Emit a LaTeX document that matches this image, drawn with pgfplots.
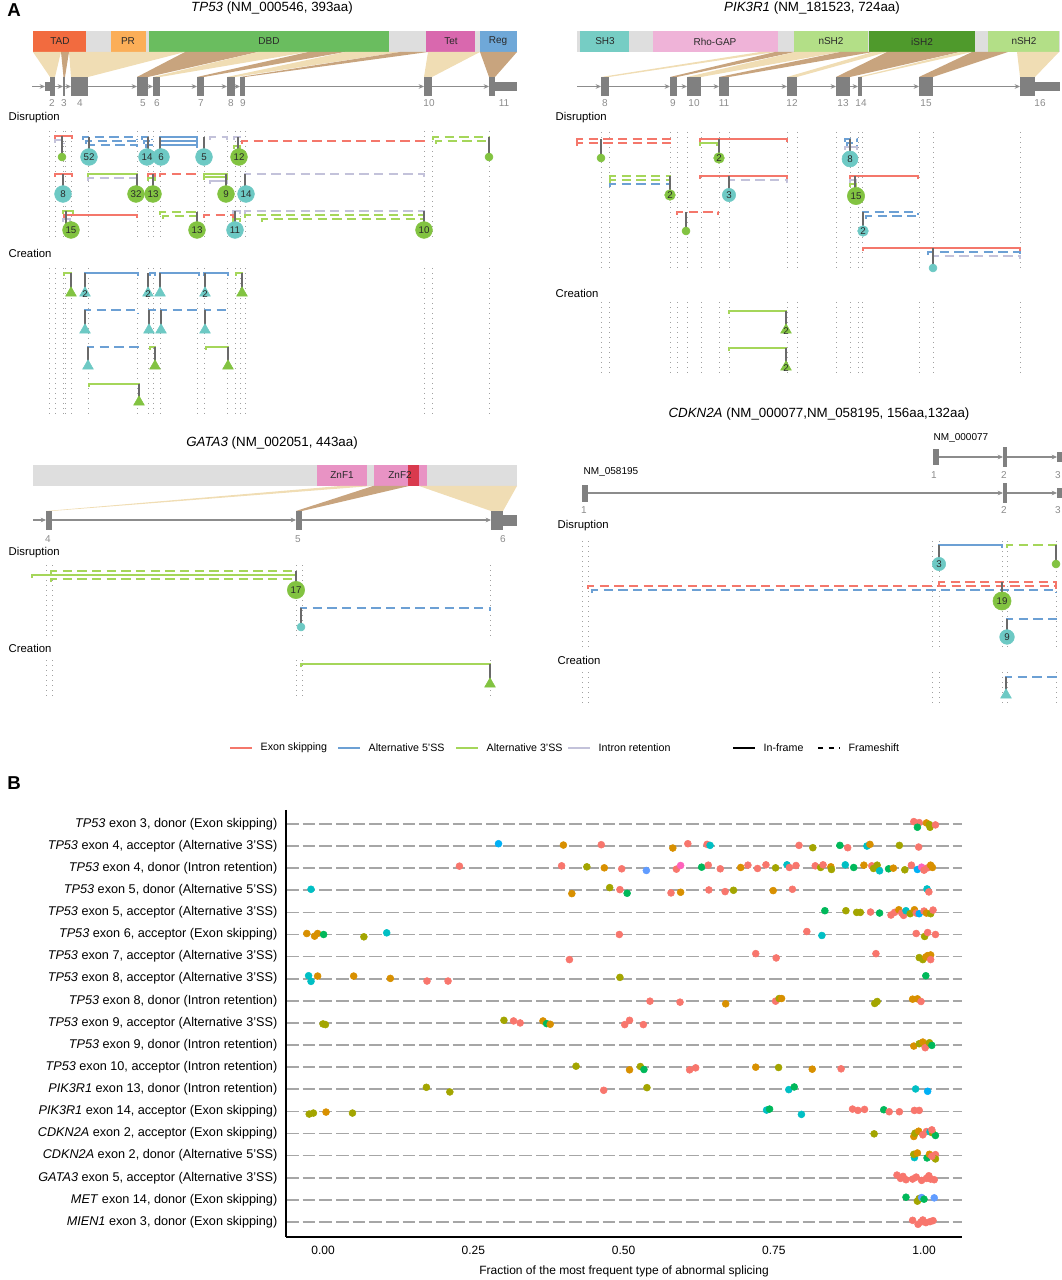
\documentclass[border=0pt]{standalone}
\usepackage{pgfplots}
\pgfplotsset{compat=1.18}
\usepackage{fontspec}
\setmainfont{Liberation Sans}
\usetikzlibrary{arrows.meta}
\newcommand{\fs}[1]{\fontsize{#1}{#1}\selectfont}
\definecolor{cES}{HTML}{F4776B}
\definecolor{cA5}{HTML}{6CA0D4}
\definecolor{cA3}{HTML}{A5D65A}
\definecolor{cIR}{HTML}{C3C2DA}
\definecolor{cTe}{HTML}{6DC9C4}
\definecolor{cGr}{HTML}{82C341}
\definecolor{cStem}{HTML}{6A6A6A}
\definecolor{cDot}{HTML}{A0A0A0}
\definecolor{fanL}{HTML}{F0DDB4}
\definecolor{fanD}{HTML}{C8A47E}
\definecolor{cBar}{HTML}{DEDEDE}
\definecolor{cEx}{HTML}{808080}
\definecolor{cLab}{HTML}{8C8C8C}
\definecolor{cNum}{HTML}{2A2A2A}
\definecolor{cTAD}{HTML}{F26B3F}
\definecolor{cPR}{HTML}{FBAE58}
\definecolor{cDBD}{HTML}{6ABD5F}
\definecolor{cTet}{HTML}{D968AE}
\definecolor{cReg}{HTML}{6FA8D8}
\definecolor{cSH3}{HTML}{76CDC4}
\definecolor{cRho}{HTML}{EFB3D8}
\definecolor{cnSH}{HTML}{B3DF87}
\definecolor{ciSH}{HTML}{4F9A2C}
\definecolor{cZnF}{HTML}{E893C4}
\definecolor{cZnR}{HTML}{D93A4E}
\definecolor{cGrid}{HTML}{A6A6A6}
\definecolor{cS}{HTML}{F8766D}
\definecolor{cO}{HTML}{D89000}
\definecolor{cV}{HTML}{A3A500}
\definecolor{cG}{HTML}{00B85A}
\definecolor{cT}{HTML}{00BFC4}
\definecolor{cB}{HTML}{00B0F6}
\definecolor{cP}{HTML}{FF62BC}
\definecolor{cU}{HTML}{619CFF}
\tikzset{
 ES/.style={color=cES, line width=1.3pt},
 A5/.style={color=cA5, line width=1.3pt},
 A3/.style={color=cA3, line width=1.3pt},
 IR/.style={color=cIR, line width=1.3pt},
 FS/.style={dash pattern=on 7pt off 4pt},
 stemst/.style={color=cStem, line width=1.6pt},
 vdot/.style={color=cDot, line width=0.75pt, dash pattern=on 0.75pt off 3pt},
 intron/.style={color=cLab, line width=0.9pt, -{Stealth[length=4pt,width=3.5pt]}},
}
\newcommand{\brk}[4]{\pgfmathsetmacro{\yb}{#4+3}\addplot[#1] coordinates {(#2,\yb)(#2,#4)(#3,#4)(#3,\yb)};}
\newcommand{\stm}[3]{\addplot[stemst] coordinates {(#1,#2)(#1,#3)};}
\newcommand{\cir}[5]{\addplot[only marks, mark=*, mark size=#4, color=#3, nodes near coords={#5}, every node near coord/.append style={anchor=center, text=cNum, font=\fs{7.3}}] coordinates {(#1,#2)};}
\newcommand{\tri}[4]{\addplot[only marks, mark=triangle*, mark size=4.6pt, color=#3, nodes near coords={#4}, every node near coord/.append style={anchor=center, text=cNum, font=\fs{7.3}, yshift=-1pt}] coordinates {(#1,#2)};}
\newcommand{\rect}[5]{\addplot[fill=#5, draw=none] coordinates {(#1,#3)(#2,#3)(#2,#4)(#1,#4)};}
\newcommand{\fan}[7]{\addplot[fill=#7, draw=none] coordinates {(#1,#5)(#2,#5)(#4,#6)(#3,#6)};}
\newcommand{\intr}[3]{\addplot[intron] coordinates {(#1,#3)(#2,#3)};}
\newcommand{\lab}[4][]{\node[font=\fs{7.5}, text=cLab, #1] at (axis cs:#2,#3) {#4};}

\pgfplotstableread{
x y c
0.983 0.895 s
0.992 0.94 s
1.004 0.955 o
1.009 1.03 v
0.989 1.15 g
1.010 1.15 v
1.019 1.045 s
0.292 1.895 b
0.400 1.955 o
0.463 1.94 s
0.582 2.09 o
0.607 1.895 s
0.639 1.925 s
0.644 1.97 t
0.792 1.97 s
0.815 2.075 v
0.860 1.97 g
0.873 2.075 s
0.905 2.0 t
0.910 1.925 o
0.959 1.97 v
0.991 2.045 s
0.227 2.91 s
0.397 2.895 s
0.439 2.94 v
0.468 2.985 o
0.497 3.03 s
0.538 3.105 u
0.588 3.045 s
0.595 2.88 p
0.630 2.955 g
0.641 2.865 s
0.661 3.03 s
0.695 2.97 o
0.707 2.865 s
0.723 3.015 s
0.737 2.85 s
0.753 2.985 v
0.772 2.85 t
0.776 2.97 s
0.787 2.88 s
0.819 2.895 s
0.828 2.97 v
0.832 2.85 s
0.845 2.94 o
0.846 3.06 v
0.869 2.85 t
0.883 2.97 g
0.900 2.865 o
0.913 2.895 s
0.916 3.015 v
0.922 2.865 v
0.926 3.12 t
0.941 3.03 g
0.949 3.0 o
0.968 3.075 v
0.979 2.865 s
0.989 3.06 b
0.996 2.955 p
1.000 3.09 s
1.006 2.985 s
1.011 2.865 o
1.014 2.97 o
-0.020 3.955 t
0.414 4.15 o
0.477 3.88 v
0.494 3.97 s
0.506 4.135 g
0.579 4.12 s
0.595 4.09 o
0.642 3.985 s
0.669 4.06 s
0.683 4.0 v
0.749 4.015 o
0.781 3.955 s
1.005 3.94 t
1.008 4.075 s
0.835 4.925 g
0.870 4.925 v
0.888 5.0 v
0.894 5.0 v
0.911 4.985 s
0.926 5.03 g
0.945 5.12 s
0.951 5.0 s
0.958 4.88 o
0.963 5.03 s
0.966 5.135 s
0.970 4.925 t
0.977 5.06 v
0.984 4.88 o
0.987 5.03 s
0.992 5.06 b
1.000 4.94 s
1.004 5.03 o
1.011 5.06 v
1.015 4.895 s
-0.027 5.955 o
-0.014 6.075 o
-0.009 5.955 o
0.001 6.0 g
0.068 6.105 v
0.106 5.925 t
0.493 6.0 s
0.805 5.865 s
0.830 6.045 t
0.987 5.955 s
1.001 6.09 v
1.006 5.91 s
1.019 6.0 s
0.410 7.135 s
0.720 6.865 s
0.754 7.06 s
0.920 6.865 s
0.992 7.045 v
0.998 7.135 v
1.003 7.015 o
1.006 6.955 o
1.011 6.925 o
1.011 7.135 s
-0.024 7.865 t
-0.020 8.12 t
-0.009 7.88 o
0.051 7.88 o
0.112 7.985 o
0.173 8.105 s
0.208 8.105 s
0.494 7.94 v
1.003 7.865 g
0.544 9.015 s
0.594 9.06 s
0.670 9.135 o
0.753 9.015 s
0.759 8.895 v
0.763 8.895 o
0.918 9.12 v
0.922 9.03 v
0.981 8.925 o
0.989 8.91 o
0.995 9.03 s
0.000 10.045 v
0.004 10.075 v
0.301 9.88 v
0.317 9.91 s
0.328 10.0 s
0.366 9.91 o
0.372 10.03 g
0.378 10.06 o
0.502 10.075 s
0.510 9.88 s
0.533 10.075 s
0.983 11.045 o
0.992 10.94 v
0.998 10.865 o
1.004 10.97 o
1.002 11.12 s
1.009 10.895 v
1.013 11.015 g
0.421 11.955 v
0.510 12.12 o
0.528 11.97 v
0.534 12.105 g
0.610 12.12 s
0.620 12.03 s
0.720 12.0 o
0.758 12.015 v
0.814 12.09 o
0.862 12.075 s
0.172 12.91 v
0.211 13.12 v
0.467 13.045 s
0.539 12.925 v
0.775 13.015 t
0.784 12.895 g
0.986 12.985 t
1.006 13.09 b
-0.023 14.12 v
-0.016 14.075 v
0.005 14.03 o
0.049 14.075 v
0.738 13.94 t
0.743 13.895 g
0.796 14.135 t
0.881 13.895 s
0.890 13.955 s
0.901 13.91 s
0.933 13.925 g
0.942 14.015 s
0.959 14.015 s
0.984 13.955 s
0.992 13.955 s
0.917 15.015 v
0.983 15.135 o
0.985 14.985 v
0.991 14.895 o
0.998 15.06 s
1.004 14.91 s
1.010 14.925 t
1.014 14.97 v
1.019 15.09 g
1.013 14.835 s
0.984 16.09 t
0.983 15.94 v
0.989 15.88 o
1.005 16.105 g
1.009 15.94 o
1.019 15.955 s
1.019 16.15 v
1.013 16.03 s
0.955 16.88 s
0.961 17.03 s
0.965 16.94 s
0.970 17.09 s
0.981 17.06 s
0.987 16.97 s
0.996 17.12 s
1.004 17.03 s
1.008 16.91 s
1.011 17.06 s
1.017 17.09 s
0.970 17.88 g
0.989 18.06 v
0.992 17.94 v
0.996 17.895 u
1.000 17.97 g
1.017 17.91 u
0.981 18.925 s
0.990 19.105 s
0.995 19.0 s
0.998 18.91 s
1.003 19.03 s
1.015 18.94 s
1.010 18.985 s
}\dotsB

\begin{document}
\begin{tikzpicture}
\useasboundingbox (0,0) rectangle (796.5pt,960pt);
\begin{axis}[at={(0pt,0pt)}, anchor=south west, scale only axis, width=796.5pt, height=960pt,
 xmin=0, xmax=1062, ymin=0, ymax=1280, y dir=reverse, hide axis, clip=false]

% ---------- panel letters ----------
\node[font=\fs{14}\bfseries] at (axis cs:14,10) {A};
\node[font=\fs{14}\bfseries] at (axis cs:14,783) {B};

% ================= TP53 =================
\node[font=\fs{10}] at (axis cs:272,8) {\textit{TP53} (NM\_000546, 393aa)};
\rect{33}{517}{31}{52}{cBar}
\rect{33}{86}{31}{52}{cTAD}
\rect{111}{146}{31}{52}{cPR}
\rect{149}{389}{31}{52}{cDBD}
\rect{426}{475}{31}{52}{cTet}
\rect{480}{517}{31}{52}{cReg}
\node[font=\fs{7.5}, text=cNum] at (axis cs:60,41.5) {TAD};
\node[font=\fs{7.5}, text=cNum] at (axis cs:128,41.5) {PR};
\node[font=\fs{7.5}, text=cNum] at (axis cs:269,41.5) {DBD};
\node[font=\fs{7.5}, text=cNum] at (axis cs:451,41.5) {Tet};
\node[font=\fs{7.5}, text=cNum] at (axis cs:498,41.5) {Reg};
\fan{33}{61}{50}{55}{52}{77}{fanL}
\fan{61}{69}{63.5}{65}{52}{77}{fanD}
\fan{69}{185}{71}{88}{52}{77}{fanL}
\fan{185}{258}{137}{148}{52}{77}{fanD}
\fan{258}{308}{153}{160}{52}{77}{fanL}
\fan{308}{345}{197}{204}{52}{77}{fanD}
\fan{345}{400}{227}{235}{52}{77}{fanL}
\fan{400}{428}{240}{245}{52}{77}{fanD}
\fan{428}{480}{424}{432}{52}{77}{fanL}
\fan{480}{517}{489}{495}{52}{77}{fanD}
\intr{32}{45}{86.5}\intr{55}{63}{86.5}\intr{65}{71}{86.5}\intr{88}{137}{86.5}
\intr{148}{153}{86.5}\intr{160}{197}{86.5}\intr{204}{227}{86.5}\intr{235}{240}{86.5}
\intr{245}{424}{86.5}\intr{432}{489}{86.5}
\rect{45}{50}{82}{91}{cEx}
\rect{50}{55}{77}{96}{cEx}
\rect{63.3}{65}{77}{96}{cEx}
\rect{71}{88}{77}{96}{cEx}
\rect{137}{148}{77}{96}{cEx}
\rect{153}{160}{77}{96}{cEx}
\rect{197}{204}{77}{96}{cEx}
\rect{227}{235}{77}{96}{cEx}
\rect{240}{245}{77}{96}{cEx}
\rect{424}{432}{77}{96}{cEx}
\rect{489}{495}{77}{96}{cEx}
\rect{495}{517}{82}{91}{cEx}
\lab{52}{103}{2}\lab{64}{103}{3}\lab{80}{103}{4}\lab{143}{103}{5}\lab{157}{103}{6}
\lab{201}{103}{7}\lab{231}{103}{8}\lab{243}{103}{9}\lab{429}{103}{10}\lab{504}{103}{11}
\node[font=\fs{8.5}, anchor=west] at (axis cs:4,118) {Disruption};
\node[font=\fs{8.5}, anchor=west] at (axis cs:4,253) {Creation};
\pgfplotsinvokeforeach{49,55,63,65,71,88,137,148,153,160,197,204,227,235,240,245,424,432,489}{
 \addplot[vdot] coordinates {(#1,131)(#1,241)};
 \addplot[vdot] coordinates {(#1,268)(#1,416)};
}
% disruption row 1
\brk{ES}{55}{72}{136}\brk{IR,FS}{55}{64}{140}\stm{62}{136}{157}\cir{62}{157}{cGr}{3pt}{}
\brk{A5,FS}{83}{137}{137}\brk{A5,FS}{86}{137}{141}\brk{A5,FS}{89}{137}{145}\stm{89}{137}{157}
\brk{A5,FS}{142}{152}{137}\brk{A5,FS}{144}{152}{141}\brk{A5,FS}{146}{152}{145}\stm{148}{137}{157}
\brk{A5}{160}{197}{137}\brk{A5}{160}{197}{141}\brk{A5}{160}{197}{145}\stm{160}{137}{157}
\brk{IR,FS}{210}{227}{137}\stm{204}{137}{157}
\brk{IR,FS}{234}{240}{137}\brk{A3}{234}{240}{146}\brk{ES,FS}{242}{424}{141}\stm{238}{137}{157}
\brk{A3,FS}{433}{489}{137}\brk{A3,FS}{436}{489}{141}\stm{489}{137}{157}
\cir{89}{157}{cTe}{6.3pt}{52}\cir{147}{157}{cTe}{6.3pt}{14}\cir{161}{157}{cTe}{6.3pt}{6}
\cir{204}{157}{cTe}{6.3pt}{5}\cir{239}{157}{cGr}{6.3pt}{12}\cir{489}{157}{cGr}{3pt}{}
% row 2
\brk{ES}{55}{72}{174}\stm{63}{174}{194}
\brk{A3}{88}{137}{174}\brk{IR,FS}{88}{137}{178}\stm{137}{174}{194}
\brk{ES}{148}{155}{174}\brk{A3}{148}{155}{178}\stm{153}{174}{194}
\brk{ES,FS}{160}{197}{174}
\brk{A3}{204}{227}{174}\brk{A3}{204}{227}{177}\brk{IR}{210}{227}{181}\stm{226}{174}{194}
\brk{IR,FS}{245}{424}{174}\stm{245}{174}{194}
\cir{63}{194}{cTe}{6.3pt}{8}\cir{136}{194}{cGr}{6.3pt}{32}\cir{153}{194}{cGr}{6.3pt}{13}
\cir{226}{194}{cGr}{6.3pt}{9}\cir{246}{194}{cTe}{6.3pt}{14}
% row 3
\brk{A3}{63}{73}{211}\brk{IR}{63}{70}{219}\brk{ES}{64}{137}{215}\stm{66}{211}{228}
\brk{A3,FS}{160}{197}{212}\brk{A3,FS}{163}{197}{216}\stm{197}{212}{230}
\brk{ES,FS}{204}{233}{215}\brk{IR}{233}{240}{211}\brk{A3}{233}{240}{219}\stm{235}{211}{230}
\brk{IR,FS}{245}{424}{211}\brk{A3,FS}{245}{424}{215}\brk{A3,FS}{262}{424}{219}\stm{424}{211}{230}
\cir{71}{230}{cGr}{6.3pt}{15}\cir{197}{230}{cGr}{6.3pt}{13}\cir{235}{230}{cTe}{6.3pt}{11}
\cir{424}{230}{cGr}{6.3pt}{10}
% creation
\brk{A3}{64}{71}{273}\stm{71}{273}{291}\tri{71}{293}{cGr}{}
\brk{A5}{85}{138}{273}\stm{85}{273}{291}\tri{85}{293}{cTe}{2}
\brk{A5}{150}{155}{273}\stm{148}{273}{291}\tri{148}{293}{cTe}{2}
\brk{A5}{160}{199}{273}\stm{160}{273}{291}\tri{160}{293}{cTe}{}
\brk{A5}{204}{228}{273}\stm{205}{273}{291}\tri{205}{293}{cTe}{2}
\brk{A3}{236}{242}{273}\stm{242}{273}{291}\tri{242}{293}{cGr}{}
\brk{A5,FS}{85}{138}{310}\stm{85}{310}{328}\tri{85}{330}{cTe}{}
\brk{A5,FS}{149}{155}{310}\stm{149}{310}{328}\tri{149}{330}{cTe}{}
\brk{A5,FS}{161}{199}{310}\stm{161}{310}{328}\tri{161}{330}{cTe}{}
\brk{A5,FS}{205}{228}{310}\stm{205}{310}{328}\tri{205}{330}{cTe}{}
\brk{A5,FS}{88}{138}{347}\stm{88}{347}{364}\tri{88}{366}{cTe}{}
\brk{A3}{150}{155}{347}\stm{155}{347}{364}\tri{155}{366}{cGr}{}
\brk{A3}{206}{228}{347}\stm{228}{347}{364}\tri{228}{366}{cGr}{}
\brk{A3}{89}{139}{384}\stm{139}{384}{400}\tri{139}{402}{cGr}{}

% ================= PIK3R1 =================
\node[font=\fs{10}] at (axis cs:812,8) {\textit{PIK3R1} (NM\_181523, 724aa)};
\rect{577}{1060}{31}{52}{cBar}
\rect{580}{629}{31}{52}{cSH3}
\rect{653}{778}{31}{52}{cRho}
\rect{794}{868}{31}{52}{cnSH}
\rect{869}{975}{31}{52}{ciSH}
\rect{988}{1059}{31}{52}{cnSH}
\node[font=\fs{7.5}, text=cNum] at (axis cs:605,41.5) {SH3};
\node[font=\fs{7.5}, text=cNum] at (axis cs:715,41.5) {Rho-GAP};
\node[font=\fs{7.5}, text=cNum] at (axis cs:831,41.5) {nSH2};
\node[font=\fs{7.5}, text=cNum] at (axis cs:922,41.5) {iSH2};
\node[font=\fs{7.5}, text=cNum] at (axis cs:1024,41.5) {nSH2};
\fan{760}{775}{601}{609}{52}{77}{fanL}
\fan{775}{795}{670}{677}{52}{77}{fanD}
\fan{795}{840}{687}{701}{52}{77}{fanL}
\fan{840}{873}{719}{729}{52}{77}{fanD}
\fan{873}{887}{787}{797}{52}{77}{fanL}
\fan{887}{960}{836}{850}{52}{77}{fanD}
\fan{960}{972}{858}{862}{52}{77}{fanL}
\fan{972}{1008}{919}{933}{52}{77}{fanD}
\fan{1017}{1059}{1020}{1035}{52}{77}{fanL}
\intr{577}{601}{86.5}\intr{609}{670}{86.5}\intr{677}{687}{86.5}\intr{701}{719}{86.5}
\intr{729}{787}{86.5}\intr{797}{836}{86.5}\intr{850}{858}{86.5}\intr{862}{919}{86.5}
\intr{933}{1020}{86.5}
\rect{601}{609}{77}{96}{cEx}
\rect{670}{677}{77}{96}{cEx}
\rect{687}{701}{77}{96}{cEx}
\rect{719}{729}{77}{96}{cEx}
\rect{787}{797}{77}{96}{cEx}
\rect{836}{850}{77}{96}{cEx}
\rect{858}{862}{77}{96}{cEx}
\rect{919}{933}{77}{96}{cEx}
\rect{1020}{1035}{77}{96}{cEx}
\rect{1035}{1060}{82}{91}{cEx}
\lab{605}{103}{8}\lab{673}{103}{9}\lab{694}{103}{10}\lab{724}{103}{11}\lab{792}{103}{12}
\lab{843}{103}{13}\lab{861}{103}{14}\lab{926}{103}{15}\lab{1040}{103}{16}
\node[font=\fs{8.5}, anchor=west] at (axis cs:551,118) {Disruption};
\node[font=\fs{8.5}, anchor=west] at (axis cs:551,293) {Creation};
\pgfplotsinvokeforeach{601,609,670,677,687,701,719,729,787,797,836,850,858,862,919,933,1020}{
 \addplot[vdot] coordinates {(#1,132)(#1,272)};
 \addplot[vdot] coordinates {(#1,302)(#1,377)};
}
\brk{ES,FS}{577}{670}{139}\brk{ES,FS}{577}{670}{143}\stm{601}{139}{158}
\brk{ES}{700}{787}{139}\brk{A3}{700}{717}{143}\stm{719}{139}{158}
\brk{A5,FS}{845}{857}{139}\brk{A5,FS}{847}{857}{143}\brk{IR}{845}{857}{147}\stm{850}{139}{159}
\cir{601}{158}{cGr}{3pt}{}\cir{719}{158}{cGr}{4pt}{2}\cir{850}{159}{cTe}{6pt}{8}
\brk{A3,FS}{610}{670}{176}\brk{A3,FS}{610}{670}{180}\brk{A5,FS}{610}{670}{184}\stm{670}{176}{195}
\brk{ES}{700}{787}{176}\brk{IR,FS}{729}{787}{180}\stm{729}{176}{195}
\brk{ES}{850}{918}{176}\brk{IR}{850}{856}{180}\brk{A3}{850}{856}{184}\stm{855}{176}{196}
\cir{670}{195}{cGr}{4pt}{2}\cir{729}{195}{cTe}{5pt}{3}\cir{856}{196}{cGr}{6.5pt}{15}
\brk{ES,FS}{677}{718}{212}\stm{686}{212}{231}
\brk{A5,FS}{863}{918}{212}\brk{A5,FS}{866}{918}{216}\stm{863}{212}{231}
\cir{686}{231}{cGr}{3pt}{}\cir{863}{231}{cTe}{4pt}{2}
\brk{ES}{863}{1020}{248}\brk{A5,FS}{928}{1020}{252}\brk{IR,FS}{933}{1020}{256}\stm{933}{248}{268}
\cir{933}{268}{cTe}{3pt}{}
\brk{A3}{729}{786}{311}\stm{786}{311}{328}\tri{786}{330}{cGr}{2}
\brk{A3}{729}{786}{348}\stm{786}{348}{365}\tri{786}{367}{cGr}{2}

% ================= GATA3 =================
\node[font=\fs{10}] at (axis cs:272,443) {\textit{GATA3} (NM\_002051, 443aa)};
\rect{33}{517}{465}{486}{cBar}
\rect{317}{367}{465}{486}{cZnF}
\rect{374}{427}{465}{486}{cZnF}
\rect{408}{419}{465}{486}{cZnR}
\node[font=\fs{7.5}, text=cNum] at (axis cs:342,475.5) {ZnF1};
\node[font=\fs{7.5}, text=cNum] at (axis cs:400,475.5) {ZnF2};
\fan{340}{372}{46}{52}{486}{511}{fanL}
\fan{373}{409}{296}{302}{486}{511}{fanD}
\fan{419}{517}{491}{503}{486}{511}{fanL}
\intr{33}{46}{520}\intr{52}{296}{520}\intr{302}{491}{520}
\rect{46}{52}{511}{530}{cEx}
\rect{296}{302}{511}{530}{cEx}
\rect{491}{503}{511}{530}{cEx}
\rect{503}{517}{515}{526}{cEx}
\lab{48}{539}{4}\lab{298}{539}{5}\lab{503}{539}{6}
\node[font=\fs{8.5}, anchor=west] at (axis cs:4,553) {Disruption};
\node[font=\fs{8.5}, anchor=west] at (axis cs:4,648) {Creation};
\pgfplotsinvokeforeach{46,52,296,302,490}{
 \addplot[vdot] coordinates {(#1,565)(#1,636)};
 \addplot[vdot] coordinates {(#1,660)(#1,696)};
}
\brk{A3,FS}{51}{296}{571}\brk{A3}{32}{296}{575}\brk{A3,FS}{51}{296}{579}\stm{296}{571}{590}
\cir{296}{590}{cGr}{6.5pt}{17}
\brk{A5,FS}{301}{490}{608}\stm{301}{608}{627}\cir{301}{627}{cTe}{3pt}{}
\brk{A3}{301}{490}{664}\stm{490}{664}{682}\tri{490}{684}{cGr}{}

% ================= CDKN2A =================
\node[font=\fs{10}] at (axis cs:819,414) {\textit{CDKN2A} (NM\_000077,NM\_058195, 156aa,132aa)};
\node[font=\fs{7.5}, anchor=west] at (axis cs:929,438) {NM\_000077};
\intr{939}{1003}{457}\intr{1007}{1057}{457}
\rect{933}{939}{449}{465}{cEx}
\rect{1003}{1007}{447}{467}{cEx}
\rect{1057}{1062}{452}{462}{cEx}
\lab{934}{475}{1}\lab{1004}{475}{2}\lab{1058}{475}{3}
\node[font=\fs{7.5}, anchor=west] at (axis cs:579,472) {NM\_058195};
\intr{588}{1003}{493}\intr{1007}{1057}{493}
\rect{582}{588}{485}{502}{cEx}
\rect{1003}{1007}{483}{503}{cEx}
\rect{1057}{1062}{488}{498}{cEx}
\lab{584}{510}{1}\lab{1004}{510}{2}\lab{1058}{510}{3}
\node[font=\fs{8.5}, anchor=west] at (axis cs:553,526) {Disruption};
\node[font=\fs{8.5}, anchor=west] at (axis cs:553,660) {Creation};
\pgfplotsinvokeforeach{582,588,932,939,1002,1007,1056}{
 \addplot[vdot] coordinates {(#1,541)(#1,649)};
 \addplot[vdot] coordinates {(#1,672)(#1,706)};
}
\brk{A5}{939}{1002}{545}\stm{939}{545}{564}
\brk{A3,FS}{1007}{1056}{545}\stm{1056}{545}{564}
\cir{939}{564}{cTe}{5pt}{3}\cir{1056}{564}{cGr}{3pt}{}
\brk{ES,FS}{939}{1056}{582}\brk{ES,FS}{588}{1056}{586}\brk{A5,FS}{592}{1056}{590}\stm{1002}{582}{601}
\cir{1002}{601}{cGr}{6.8pt}{19}
\brk{A5,FS}{1007}{1056}{619}\stm{1007}{619}{637}\cir{1007}{637}{cTe}{5.5pt}{9}
\brk{A5,FS}{1006}{1056}{677}\stm{1006}{677}{693}\tri{1006}{695}{cTe}{}

% ================= legend =================
\addplot[ES] coordinates {(230,748)(252,748)};
\addplot[A5] coordinates {(338,748)(360,748)};
\addplot[A3] coordinates {(456,748)(478,748)};
\addplot[IR] coordinates {(568,748)(590,748)};
\addplot[black, line width=1.3pt] coordinates {(733,748)(755,748)};
\addplot[black, line width=1.3pt, dash pattern=on 4pt off 4pt] coordinates {(818,748)(840,748)};
\node[font=\fs{8}, anchor=west] at (axis cs:256,748) {Exon skipping};
\node[font=\fs{8}, anchor=west] at (axis cs:364,748) {Alternative 5'SS};
\node[font=\fs{8}, anchor=west] at (axis cs:482,748) {Alternative 3'SS};
\node[font=\fs{8}, anchor=west] at (axis cs:594,748) {Intron retention};
\node[font=\fs{8}, anchor=west] at (axis cs:759,748) {In-frame};
\node[font=\fs{8}, anchor=west] at (axis cs:844,748) {Frameshift};
\end{axis}

% ================= panel B =================
\begin{axis}[at={(214.5pt,32.25pt)}, anchor=south west, scale only axis, width=507pt, height=320.25pt,
 xmin=-0.0616, xmax=1.0632, ymin=0.37, ymax=19.68, y dir=reverse,
 axis x line*=bottom, axis y line*=left, axis line style={line width=1.2pt, black, -},
 xtick={0,0.25,0.5,0.75,1}, xticklabels={0.00,0.25,0.50,0.75,1.00},
 ytick={1,...,19},
 yticklabels={{\textit{TP53} exon 3, donor (Exon skipping)},
 {\textit{TP53} exon 4, acceptor (Alternative 3'SS)},
 {\textit{TP53} exon 4, donor (Intron retention)},
 {\textit{TP53} exon 5, donor (Alternative 5'SS)},
 {\textit{TP53} exon 5, acceptor (Alternative 3'SS)},
 {\textit{TP53} exon 6, acceptor (Exon skipping)},
 {\textit{TP53} exon 7, acceptor (Alternative 3'SS)},
 {\textit{TP53} exon 8, acceptor (Alternative 3'SS)},
 {\textit{TP53} exon 8, donor (Intron retention)},
 {\textit{TP53} exon 9, acceptor (Alternative 3'SS)},
 {\textit{TP53} exon 9, donor (Intron retention)},
 {\textit{TP53} exon 10, acceptor (Intron retention)},
 {\textit{PIK3R1} exon 13, donor (Intron retention)},
 {\textit{PIK3R1} exon 14, acceptor (Exon skipping)},
 {\textit{CDKN2A} exon 2, acceptor (Exon skipping)},
 {\textit{CDKN2A} exon 2, donor (Alternative 5'SS)},
 {\textit{GATA3} exon 5, acceptor (Alternative 3'SS)},
 {\textit{MET} exon 14, donor (Exon skipping)},
 {\textit{MIEN1} exon 3, donor (Exon skipping)}},
 major tick length=0pt,
 ymajorgrids, grid style={color=cGrid, line width=1.2pt, dash pattern=on 9.5pt off 3pt},
 yticklabel style={font=\fs{9.5}, xshift=-3pt},
 xticklabel style={font=\fs{9}, yshift=-3pt},
 xlabel={Fraction of the most frequent type of abnormal splicing},
 xlabel style={font=\fs{9}, yshift=-2pt},
 clip=false]
\addplot[scatter, only marks, scatter src=explicit symbolic, mark size=2.6pt,
 scatter/classes={s={mark=*,cS}, o={mark=*,cO}, v={mark=*,cV}, g={mark=*,cG},
 t={mark=*,cT}, b={mark=*,cB}, p={mark=*,cP}, u={mark=*,cU}}]
 table[x=x, y=y, meta=c] {\dotsB};
\end{axis}
\end{tikzpicture}
\end{document}
